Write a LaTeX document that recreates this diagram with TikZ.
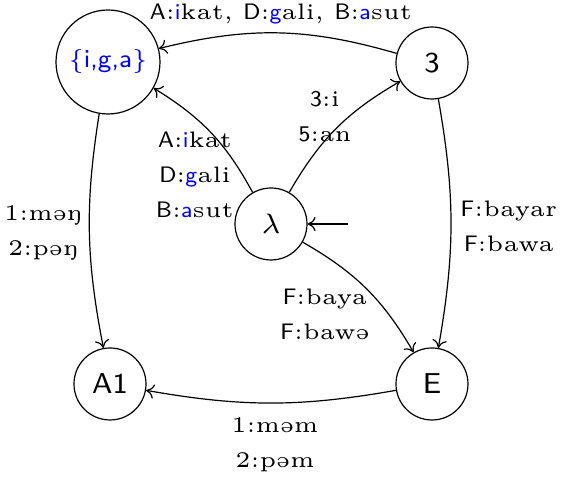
\documentclass[tikz,border=0pt]{standalone}
\usepackage{fontspec}
\newfontfamily\lr{lmroman5-regular.otf}
\newfontfamily\ls{lmsans8-regular.otf}
\usetikzlibrary{arrows.meta}
\newcommand\Sx[1]{{\ls #1}}
\newcommand\Bx[1]{{\ls\color{blue}#1}}
\newcommand\twol[2]{\begin{tabular}[t]{@{}c@{}}#1\\#2\end{tabular}}
\newcommand\threel[3]{\begin{tabular}[t]{@{}c@{}}#1\\#2\\#3\end{tabular}}
\begin{document}
\begin{tikzpicture}[x=0.25pt,y=-0.25pt,
  st/.style={circle,draw,line width=0.3pt,minimum size=18pt,inner sep=0pt,
    font=\fontsize{7.2}{8.6}\selectfont\ls},
  lab/.style={inner sep=0pt,anchor=base,font=\fontsize{5.6}{8.75}\selectfont\lr},
  tr/.style={-{To[length=2pt,width=3.6pt]},line width=0.3pt}]
\useasboundingbox (0,0) rectangle (562,480);
\node[st,minimum size=26pt,text=blue,font=\fontsize{6.4}{8}\selectfont\ls] (G) at (108,62) {$\{$i,g,a$\}$};
\node[st] (T) at (432,63) {3};
\node[st] (L) at (271,224) {$\lambda$};
\node[st] (A) at (110,384) {A1};
\node[st] (E) at (432,384) {E};
\coordinate (init) at (348,224);
\draw[tr] (init) -- (L);
\draw[tr] (T) to[bend right=15] (G);
\draw[tr] (L) to[bend right=15] (G);
\draw[tr] (L) to[bend left=15] (T);
\draw[tr] (G) to[bend right=10] (A);
\draw[tr] (T) to[bend left=10] (E);
\draw[tr] (L) to[bend left=15] (E);
\draw[tr] (E) to[bend left=10] (A);
\node[lab] (lt) at (281,20) {\Sx{A}:\Bx{i}kat, \Sx{D}:\Bx{g}ali, \Sx{B}:\Bx{a}sut};
\node[lab] (lg) at (195,148) {\threel{\Sx{A}:\Bx{i}kat}{\Sx{D}:\Bx{g}ali}{\Sx{B}:\Bx{a}sut}};
\node[lab] (l3) at (325,107) {\twol{\Sx{3}:i}{\Sx{5}:an}};
\node[lab] (la) at (43,221) {\twol{1:məŋ}{2:pəŋ}};
\node[lab] (le) at (509,217) {\twol{\Sx{F}:bayar}{\Sx{F}:bawa}};
\node[lab] (ll) at (325,305) {\twol{\Sx{F}:baya}{\Sx{F}:bawə}};
\node[lab] (lb) at (275,433) {\twol{1:məm}{2:pəm}};
\end{tikzpicture}
\end{document}
